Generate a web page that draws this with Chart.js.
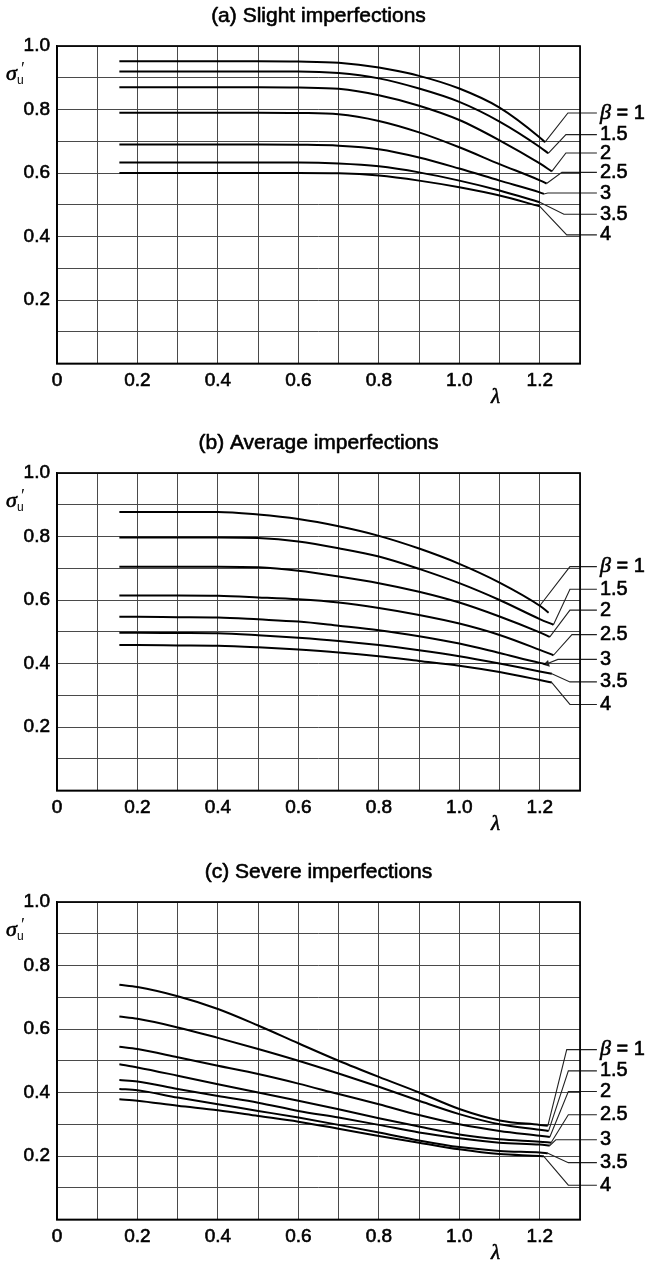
<!DOCTYPE html>
<html>
<head>
<meta charset="utf-8">
<script src="https://cdn.jsdelivr.net/npm/chart.js@4/dist/chart.umd.min.js"></script>
<style>
  html, body { margin: 0; padding: 0; background: #fff; }
  #wrap { position: relative; width: 651px; height: 1265px; overflow: hidden; }
  .panel { position: absolute; left: 0; width: 651px; height: 409px; }
</style>
</head>
<body>
<div id="wrap">
  <div class="panel" style="top:0px"><canvas id="slight"></canvas></div>
  <div class="panel" style="top:427px"><canvas id="average"></canvas></div>
  <div class="panel" style="top:856px"><canvas id="severe"></canvas></div>
</div>
<script>
// Common axis content
const lambdaGrid = [0.155, 0.2, 0.3, 0.4, 0.5, 0.6, 0.7, 0.8, 0.9, 1.0, 1.1, 1.2];
const betaLabels = ['1', '1.5', '2', '2.5', '3', '3.5', '4'];
const xTickLabels = ['0', '0.2', '0.4', '0.6', '0.8', '1.0', '1.2'];
const yTickLabels = ['0.2', '0.4', '0.6', '0.8', '1.0'];
const leaderEndLambda = 1.342;

// (a) Slight imperfections — σu′ at lambdaGrid, β = 1 … 4
const slightB1  = [0.952, 0.952, 0.952, 0.952, 0.952, 0.951, 0.947, 0.932, 0.906, 0.866, 0.806, 0.712];
const slightB15 = [0.920, 0.920, 0.920, 0.920, 0.920, 0.920, 0.915, 0.898, 0.866, 0.824, 0.762, 0.682];
const slightB2  = [0.870, 0.870, 0.870, 0.870, 0.870, 0.869, 0.865, 0.845, 0.812, 0.767, 0.703, 0.630];
const slightB25 = [0.790, 0.790, 0.790, 0.790, 0.790, 0.789, 0.785, 0.764, 0.728, 0.681, 0.628, 0.577];
const slightB3  = [0.690, 0.690, 0.690, 0.690, 0.690, 0.689, 0.686, 0.675, 0.649, 0.614, 0.576, 0.539];
const slightB35 = [0.633, 0.633, 0.633, 0.633, 0.633, 0.633, 0.630, 0.621, 0.602, 0.576, 0.545, 0.508];
const slightB4  = [0.600, 0.600, 0.600, 0.600, 0.600, 0.600, 0.599, 0.592, 0.576, 0.555, 0.529, 0.495];
const slightEndLambda = [1.213, 1.221, 1.230, 1.217, 1.210, 1.200, 1.200];
const slightEndSigma  = [0.697, 0.662, 0.605, 0.567, 0.534, 0.508, 0.495];
const slightFromLambda = [1.213, 1.221, 1.230, 1.217, 1.210, 1.200, 1.200];
const slightFromSigma  = [0.697, 0.662, 0.605, 0.567, 0.534, 0.508, 0.495];
const slightKneeLambda = [1.270, 1.265, 1.265, 1.255, 1.220, 1.260, 1.267];
const slightLabelSigma = [0.789, 0.721, 0.663, 0.602, 0.537, 0.470, 0.405];

// (b) Average imperfections
const averageB1  = [0.877, 0.877, 0.877, 0.877, 0.869, 0.855, 0.832, 0.802, 0.762, 0.714, 0.655, 0.582];
const averageB15 = [0.797, 0.797, 0.797, 0.797, 0.795, 0.784, 0.763, 0.737, 0.698, 0.653, 0.600, 0.540];
const averageB2  = [0.705, 0.705, 0.705, 0.705, 0.703, 0.692, 0.674, 0.653, 0.626, 0.592, 0.548, 0.498];
const averageB25 = [0.614, 0.614, 0.614, 0.613, 0.608, 0.602, 0.592, 0.575, 0.553, 0.526, 0.490, 0.443];
const averageB3  = [0.547, 0.547, 0.546, 0.545, 0.539, 0.532, 0.519, 0.505, 0.486, 0.463, 0.433, 0.402];
const averageB35 = [0.497, 0.497, 0.496, 0.495, 0.489, 0.481, 0.471, 0.458, 0.442, 0.423, 0.400, 0.375];
const averageB4  = [0.458, 0.458, 0.457, 0.456, 0.451, 0.444, 0.435, 0.423, 0.408, 0.393, 0.373, 0.348];
const averageEndLambda = [1.222, 1.234, 1.225, 1.234, 1.215, 1.230, 1.230];
const averageEndSigma  = [0.560, 0.522, 0.484, 0.426, 0.398, 0.368, 0.340];
const averageFromLambda = [1.200, 1.234, 1.225, 1.234, 1.218, 1.230, 1.230];
const averageFromSigma  = [0.582, 0.522, 0.484, 0.426, 0.399, 0.368, 0.340];
const averageKneeLambda = [1.275, 1.275, 1.275, 1.280, 1.245, 1.275, 1.275];
const averageLabelSigma = [0.705, 0.634, 0.568, 0.491, 0.413, 0.342, 0.271];
const averageArrow = [false, false, false, false, true, false, false];

// (c) Severe imperfections
const severeB1  = [0.739, 0.732, 0.703, 0.663, 0.611, 0.555, 0.500, 0.449, 0.400, 0.348, 0.312, 0.298];
const severeB15 = [0.639, 0.632, 0.605, 0.572, 0.537, 0.500, 0.460, 0.418, 0.374, 0.332, 0.300, 0.283];
const severeB2  = [0.544, 0.537, 0.511, 0.484, 0.458, 0.428, 0.395, 0.363, 0.329, 0.300, 0.279, 0.264];
const severeB25 = [0.489, 0.479, 0.453, 0.426, 0.400, 0.374, 0.347, 0.319, 0.293, 0.268, 0.253, 0.245];
const severeB3  = [0.439, 0.435, 0.411, 0.389, 0.368, 0.342, 0.321, 0.298, 0.274, 0.256, 0.242, 0.236];
const severeB35 = [0.411, 0.407, 0.384, 0.363, 0.342, 0.321, 0.298, 0.274, 0.249, 0.228, 0.216, 0.211];
const severeB4  = [0.379, 0.374, 0.358, 0.344, 0.326, 0.308, 0.286, 0.263, 0.242, 0.221, 0.206, 0.200];
const severeEndLambda = [1.220, 1.222, 1.225, 1.228, 1.225, 1.220, 1.210];
const severeEndSigma  = [0.295, 0.279, 0.260, 0.242, 0.233, 0.209, 0.199];
const severeFromLambda = [1.220, 1.222, 1.225, 1.228, 1.225, 1.220, 1.210];
const severeFromSigma  = [0.295, 0.279, 0.260, 0.242, 0.233, 0.209, 0.199];
const severeKneeLambda = [1.267, 1.271, 1.271, 1.271, 1.240, 1.271, 1.271];
const severeLabelSigma = [0.535, 0.468, 0.403, 0.330, 0.251, 0.179, 0.108];

// Layout of each panel canvas (pixels)
const PANEL_W = 651, PANEL_H = 409;
const PLOT_TOP = 46, PLOT_BOTTOM = 363.5, PLOT_LEFT = 57, PLOT_RIGHT = 580;

const SANS = '"Liberation Sans", Arial, Helvetica, sans-serif';
const SERIF = '"Liberation Serif", "Times New Roman", serif';
const INK = '#000';
const TEXT_STROKE = 0.6;

function curvePoints(vals, endL, endS) {
  const pts = lambdaGrid.map((l, i) => ({ x: l, y: vals[i] }));
  if (endL > lambdaGrid[lambdaGrid.length - 1]) pts.push({ x: endL, y: endS });
  return pts;
}

function inkText(ctx, str, x, y) {
  ctx.strokeText(str, x, y);
  ctx.fillText(str, x, y);
}

// Frame, title, axis symbols and the β labels at the ends of the leaders
const panelText = {
  id: 'panelText',
  afterDatasetsDraw(chart, args, opts) {
    const { ctx, chartArea: a, scales: { x, y } } = chart;
    ctx.save();
    ctx.strokeStyle = '#000';
    ctx.lineWidth = 1.7;
    ctx.strokeRect(a.left, a.top, a.right - a.left, a.bottom - a.top);

    ctx.fillStyle = INK;
    ctx.strokeStyle = INK;
    ctx.lineWidth = TEXT_STROKE;
    ctx.lineJoin = 'round';
    ctx.textBaseline = 'middle';
    ctx.textAlign = 'center';
    ctx.font = '21px ' + SANS;
    inkText(ctx, opts.title, (a.left + a.right) / 2, 16);

    // σu′ axis symbol
    ctx.textAlign = 'left';
    ctx.font = 'italic 22px ' + SERIF;
    inkText(ctx, 'σ', 6, a.top + 28);
    ctx.font = '12px ' + SANS;
    ctx.fillText('u', 17, a.top + 35);
    ctx.font = '18px ' + SERIF;
    ctx.fillText('′', 21, a.top + 24);

    // λ axis symbol
    ctx.textAlign = 'center';
    ctx.font = 'italic 21px ' + SERIF;
    inkText(ctx, 'λ', x.getPixelForValue(1.09), a.bottom + 34);

    // β labels
    ctx.textAlign = 'left';
    const lx = x.getPixelForValue(leaderEndLambda) + 3;
    opts.labelSigma.forEach((s, i) => {
      const py = y.getPixelForValue(s);
      if (i === 0) {
        ctx.font = 'italic 22px ' + SERIF;
        inkText(ctx, 'β', lx, py);
        const w = ctx.measureText('β').width;
        ctx.font = '20px ' + SANS;
        inkText(ctx, ' = ' + betaLabels[0], lx + w, py);
      } else {
        ctx.font = '20px ' + SANS;
        inkText(ctx, betaLabels[i], lx, py);
      }
    });
    ctx.restore();
  }
};

function buildPanel(id, cfg) {
  const datasets = [];
  cfg.series.forEach((vals, i) => {
    datasets.push({
      data: curvePoints(vals, cfg.endLambda[i], cfg.endSigma[i]),
      borderColor: '#000', borderWidth: 2, pointRadius: 0,
      cubicInterpolationMode: 'monotone', fill: false
    });
  });
  cfg.series.forEach((vals, i) => {
    const arrow = cfg.arrow && cfg.arrow[i];
    datasets.push({
      data: [
        { x: cfg.fromLambda[i], y: cfg.fromSigma[i] },
        { x: cfg.kneeLambda[i], y: cfg.labelSigma[i] },
        { x: leaderEndLambda, y: cfg.labelSigma[i] }
      ],
      borderColor: '#222', borderWidth: 1.1, tension: 0, clip: false,
      pointRadius: arrow ? [4, 0, 0] : 0, pointStyle: 'triangle', pointRotation: 255,
      pointBackgroundColor: '#222', pointBorderWidth: 0, fill: false
    });
  });

  const tickFont = { family: SANS, size: 19 };
  new Chart(document.getElementById(id), {
    type: 'line',
    data: { datasets },
    options: {
      responsive: true, maintainAspectRatio: false, animation: false,
      events: [],
      layout: { padding: { top: PLOT_TOP, right: PANEL_W - PLOT_RIGHT, left: 0, bottom: 0 } },
      plugins: {
        legend: { display: false }, tooltip: { enabled: false }, title: { display: false },
        panelText: { title: cfg.title, labelSigma: cfg.labelSigma }
      },
      scales: {
        x: {
          type: 'linear', min: 0, max: 1.3,
          ticks: {
            stepSize: 0.1, autoSkip: false, maxRotation: 0, padding: 6, color: INK,
            font: tickFont, textStrokeColor: INK, textStrokeWidth: TEXT_STROKE,
            callback: v => { const k = Math.round(v * 10); return k % 2 === 0 && k <= 12 ? xTickLabels[k / 2] : ''; }
          },
          grid: { color: '#4a4a4a', lineWidth: 1, drawTicks: false },
          border: { display: true, color: '#000', width: 1.5 },
          afterFit: s => { s.height = PANEL_H - PLOT_BOTTOM; }
        },
        y: {
          type: 'linear', min: 0, max: 1,
          ticks: {
            stepSize: 0.1, autoSkip: false, padding: 7, color: INK,
            font: tickFont, textStrokeColor: INK, textStrokeWidth: TEXT_STROKE,
            callback: v => { const k = Math.round(v * 10); return k % 2 === 0 && k > 0 ? yTickLabels[k / 2 - 1] : ''; }
          },
          grid: { color: '#4a4a4a', lineWidth: 1, drawTicks: false },
          border: { display: true, color: '#000', width: 1.5 },
          afterFit: s => { s.width = PLOT_LEFT; }
        }
      }
    },
    plugins: [panelText]
  });
}

buildPanel('slight', {
  title: '(a) Slight imperfections',
  series: [slightB1, slightB15, slightB2, slightB25, slightB3, slightB35, slightB4],
  endLambda: slightEndLambda, endSigma: slightEndSigma,
  fromLambda: slightFromLambda, fromSigma: slightFromSigma,
  kneeLambda: slightKneeLambda, labelSigma: slightLabelSigma
});
buildPanel('average', {
  title: '(b) Average imperfections',
  series: [averageB1, averageB15, averageB2, averageB25, averageB3, averageB35, averageB4],
  endLambda: averageEndLambda, endSigma: averageEndSigma,
  fromLambda: averageFromLambda, fromSigma: averageFromSigma,
  kneeLambda: averageKneeLambda, labelSigma: averageLabelSigma, arrow: averageArrow
});
buildPanel('severe', {
  title: '(c) Severe imperfections',
  series: [severeB1, severeB15, severeB2, severeB25, severeB3, severeB35, severeB4],
  endLambda: severeEndLambda, endSigma: severeEndSigma,
  fromLambda: severeFromLambda, fromSigma: severeFromSigma,
  kneeLambda: severeKneeLambda, labelSigma: severeLabelSigma
});
</script>
</body>
</html>
